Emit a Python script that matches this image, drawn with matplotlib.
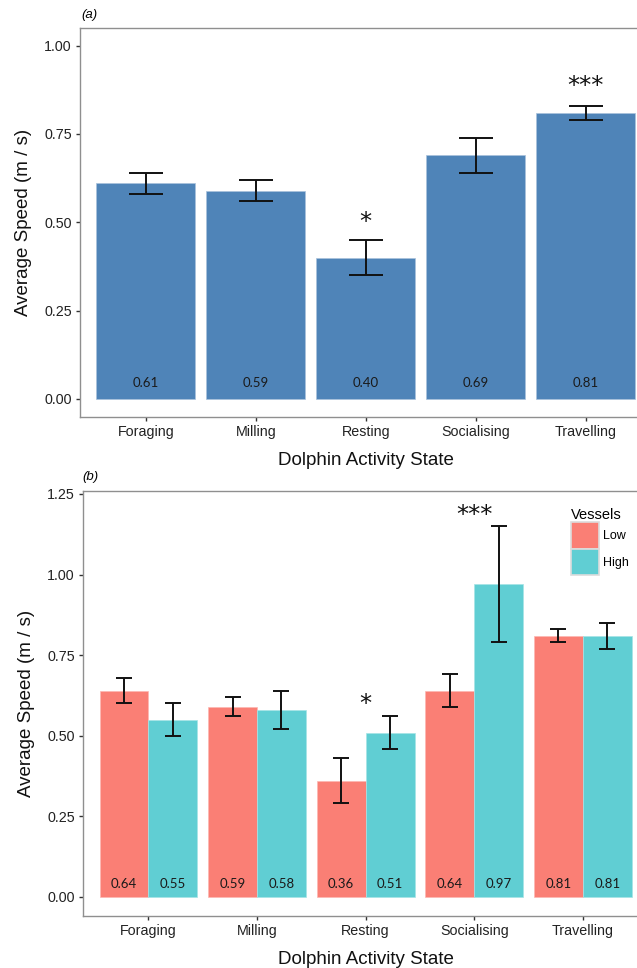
import numpy as np
import matplotlib
matplotlib.use('Agg')
import matplotlib.pyplot as plt
from matplotlib.patches import Patch

# data
states = ['Foraging', 'Milling', 'Resting', 'Socialising', 'Travelling']

# panel (a) - all vessels
speed_all = [0.61, 0.59, 0.40, 0.69, 0.81]
err_lo_all = [0.58, 0.56, 0.35, 0.64, 0.79]
err_hi_all = [0.64, 0.62, 0.45, 0.74, 0.83]
sig_all = ['', '', '*', '', '***']
sig_all_y = [0, 0, 0.50, 0, 0.885]

# panel (b) - low vs high vessel numbers
speed_low = [0.64, 0.59, 0.36, 0.64, 0.81]
low_lo = [0.60, 0.56, 0.29, 0.59, 0.79]
low_hi = [0.68, 0.62, 0.43, 0.69, 0.83]
speed_high = [0.55, 0.58, 0.51, 0.97, 0.81]
high_lo = [0.50, 0.52, 0.46, 0.79, 0.77]
high_hi = [0.60, 0.64, 0.56, 1.15, 0.85]
sig_grp = ['', '', '*', '***', '']
sig_grp_y = [0, 0, 0.60, 1.185, 0]

plt.rcParams['font.family'] = ['Liberation Sans', 'DejaVu Sans']

W, H = 637, 968
fig = plt.figure(figsize=(W / 100, H / 100), dpi=100)

def box(l, r, t, b):
    return [l / W, 1 - b / H, (r - l) / W, (b - t) / H]

ax1 = fig.add_axes(box(80, 651.5, 28, 417))
ax2 = fig.add_axes(box(83.3, 648, 491, 916))

blue = '#4F84B8'
low_c = '#FA7F75'
high_c = '#60CED3'
txt_c = '#1a1a1a'

def style(ax):
    for s in ax.spines.values():
        s.set_color('#8f8f8f')
        s.set_linewidth(1.0)
    ax.tick_params(axis='both', direction='out', length=3, width=1.0,
                   color='#333333', labelcolor='#222222', labelsize=10.3, pad=3)
    ax.set_xticks(range(1, 6))
    ax.set_xticklabels(states)
    ax.set_xlim(0.4, 5.6)
    ax.set_xlabel('Dolphin Activity State', fontsize=13.5, color='#111111', labelpad=9)
    ax.set_ylabel('Average Speed (m / s)', fontsize=13.5, color='#111111', labelpad=9)

x = np.arange(1, 6)

# ---- panel (a)
ax1.bar(x, speed_all, width=0.9, color=blue, edgecolor='#a9c1db', linewidth=0.5)
ax1.errorbar(x, speed_all,
             yerr=[np.array(speed_all) - np.array(err_lo_all), np.array(err_hi_all) - np.array(speed_all)],
             fmt='none', ecolor='#111111', elinewidth=1.4, capsize=12, capthick=1.4)
for xi, v in zip(x, speed_all):
    ax1.text(xi, 0.045, f'{v:.2f}', ha='center', va='center', fontsize=9.5,
             color=txt_c, family='Lato')
for xi, s, y in zip(x, sig_all, sig_all_y):
    if s:
        ax1.text(xi, y, s, ha='center', va='center', fontsize=17.5, color='#111111',
                 family='DejaVu Sans')
ax1.set_ylim(-0.051, 1.05)
ax1.set_yticks([0, 0.25, 0.5, 0.75, 1.0])
ax1.set_yticklabels(['0.00', '0.25', '0.50', '0.75', '1.00'])
style(ax1)
fig.text(81 / W, 1 - 15 / H, '(a)', fontsize=9.5, style='italic', va='center', ha='left')

# ---- panel (b)
bw = 0.45
ax2.bar(x - bw / 2, speed_low, width=bw, color=low_c, edgecolor='#fdb8b2', linewidth=0.5)
ax2.bar(x + bw / 2, speed_high, width=bw, color=high_c, edgecolor='#a6e4e6', linewidth=0.5)
ax2.errorbar(x - bw / 2, speed_low,
             yerr=[np.array(speed_low) - np.array(low_lo), np.array(low_hi) - np.array(speed_low)],
             fmt='none', ecolor='#111111', elinewidth=1.4, capsize=6, capthick=1.4)
ax2.errorbar(x + bw / 2, speed_high,
             yerr=[np.array(speed_high) - np.array(high_lo), np.array(high_hi) - np.array(speed_high)],
             fmt='none', ecolor='#111111', elinewidth=1.4, capsize=6, capthick=1.4)
for xi, v in zip(x - bw / 2, speed_low):
    ax2.text(xi, 0.04, f'{v:.2f}', ha='center', va='center', fontsize=9.5,
             color=txt_c, family='Lato')
for xi, v in zip(x + bw / 2, speed_high):
    ax2.text(xi, 0.04, f'{v:.2f}', ha='center', va='center', fontsize=9.5,
             color=txt_c, family='Lato')
for xi, s, y in zip(x, sig_grp, sig_grp_y):
    if s:
        ax2.text(xi, y, s, ha='center', va='center', fontsize=17.5, color='#111111',
                 family='DejaVu Sans')
ax2.set_ylim(-0.059, 1.259)
ax2.set_yticks([0, 0.25, 0.5, 0.75, 1.0, 1.25])
ax2.set_yticklabels(['0.00', '0.25', '0.50', '0.75', '1.00', '1.25'])
style(ax2)
fig.text(82 / W, 1 - 477 / H, '(b)', fontsize=9.5, style='italic', va='center', ha='left')

handles = [Patch(facecolor=low_c, edgecolor='#dcdcdc', linewidth=1.2),
           Patch(facecolor=high_c, edgecolor='#dcdcdc', linewidth=1.2)]
leg = ax2.legend(handles, ['Low', 'High'], title='Vessels', loc='upper left',
                 bbox_to_anchor=(571 / W, 1 - 508 / H), bbox_transform=fig.transFigure,
                 frameon=False, fontsize=9, title_fontsize=10.5,
                 handlelength=2.2, handleheight=2.9, labelspacing=0,
                 handletextpad=0.35, borderpad=0, borderaxespad=0)
leg._legend_box.align = 'left'

fig.savefig('out.png', dpi=100)
